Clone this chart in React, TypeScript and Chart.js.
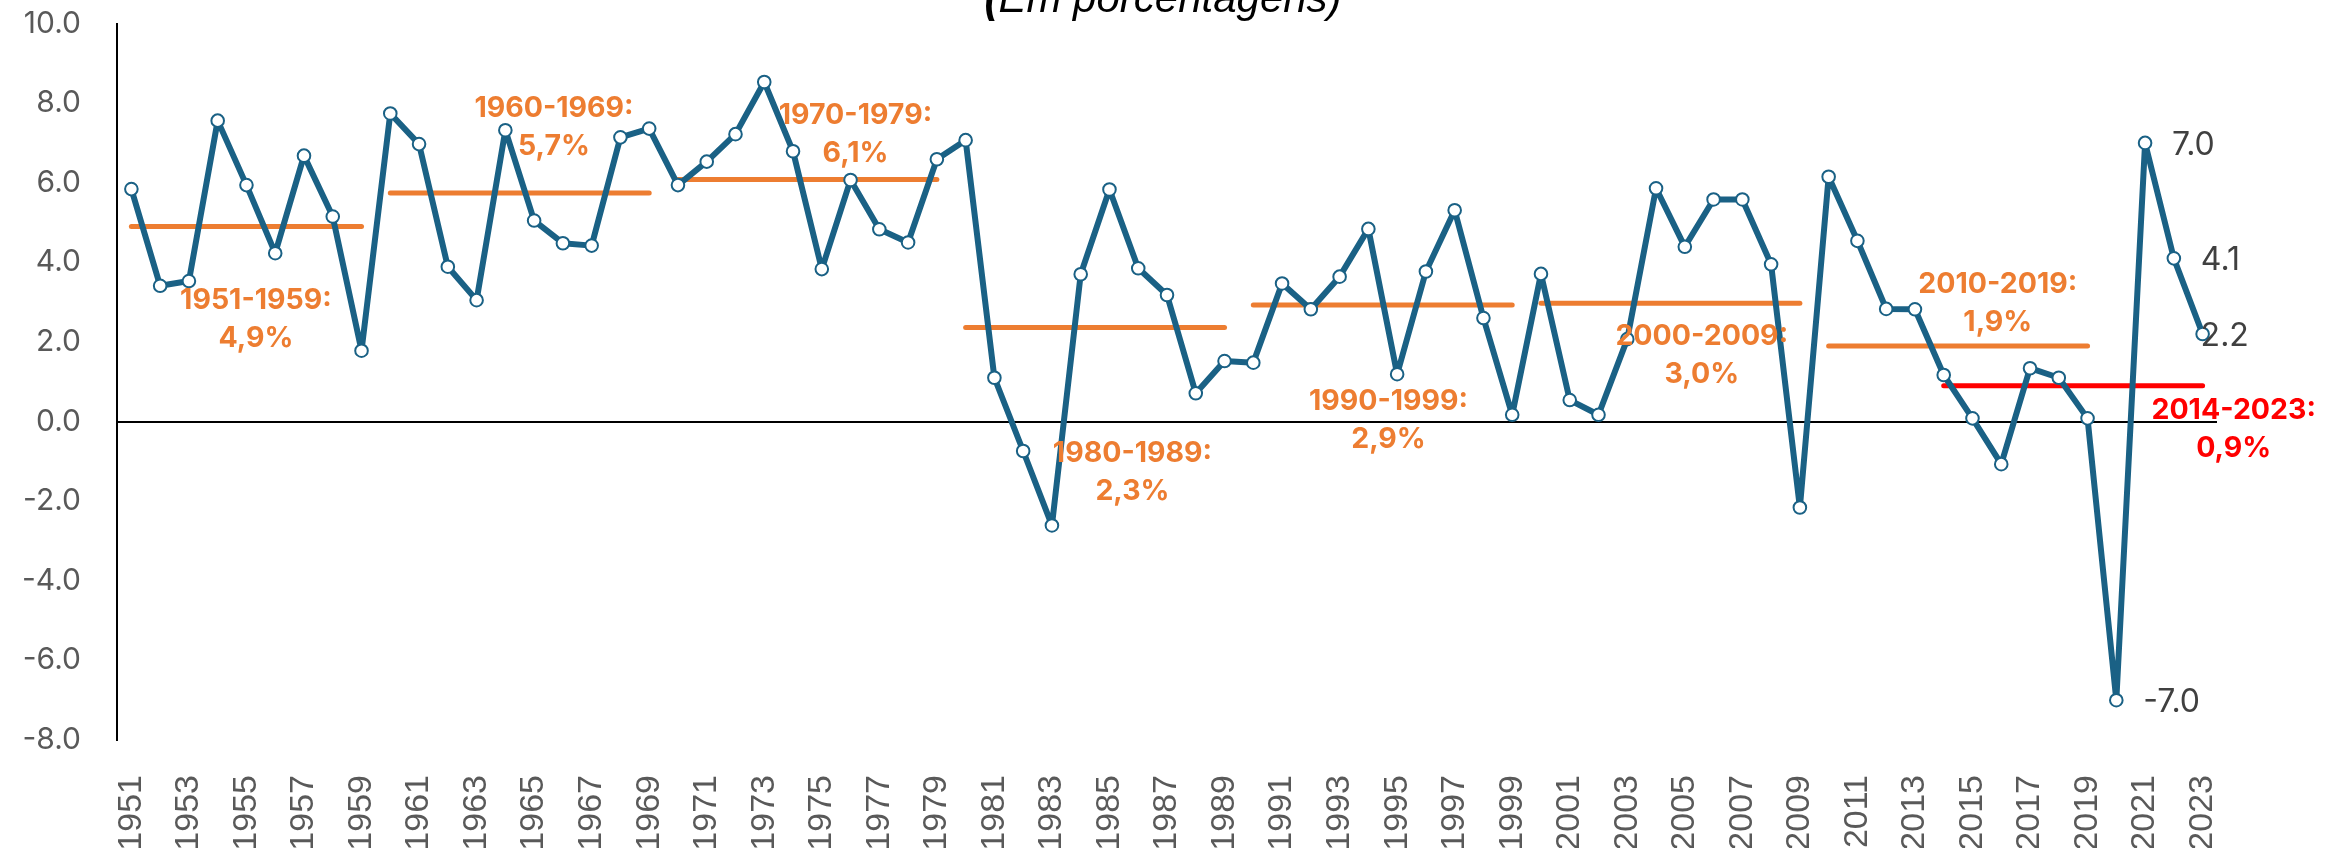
import { useEffect, useRef } from "react";
import { Chart, registerables } from "chart.js";

Chart.register(...registerables);

// ---------- DATA ----------
const years = [
  "1951", "1952", "1953", "1954", "1955", "1956", "1957", "1958", "1959",
  "1960", "1961", "1962", "1963", "1964", "1965", "1966", "1967", "1968", "1969",
  "1970", "1971", "1972", "1973", "1974", "1975", "1976", "1977", "1978", "1979",
  "1980", "1981", "1982", "1983", "1984", "1985", "1986", "1987", "1988", "1989",
  "1990", "1991", "1992", "1993", "1994", "1995", "1996", "1997", "1998", "1999",
  "2000", "2001", "2002", "2003", "2004", "2005", "2006", "2007", "2008", "2009",
  "2010", "2011", "2012", "2013", "2014", "2015", "2016", "2017", "2018", "2019",
  "2020", "2021", "2022", "2023",
];

const growth = [
  5.84, 3.41, 3.53, 7.56, 5.94, 4.23, 6.68, 5.15, 1.78,
  7.74, 6.97, 3.89, 3.05, 7.32, 5.05, 4.48, 4.42, 7.14, 7.36,
  5.94, 6.53, 7.22, 8.53, 6.79, 3.83, 6.07, 4.83, 4.5, 6.59,
  7.07, 1.1, -0.74, -2.61, 3.7, 5.83, 3.85, 3.18, 0.71, 1.52,
  1.48, 3.47, 2.82, 3.64, 4.84, 1.19, 3.77, 5.31, 2.6, 0.17,
  3.71, 0.54, 0.17, 2.07, 5.86, 4.39, 5.58, 5.58, 3.95, -2.16,
  6.15, 4.54, 2.83, 2.82, 1.17, 0.08, -1.07, 1.34, 1.1, 0.08,
  -7.0, 7.0, 4.1, 2.2,
];

const periodNames = ["1951-1959:", "1960-1969:", "1970-1979:", "1980-1989:", "1990-1999:", "2000-2009:", "2010-2019:", "2014-2023:"];
const periodStart = ["1951", "1960", "1970", "1980", "1990", "2000", "2010", "2014"];
const periodEnd = ["1959", "1969", "1979", "1989", "1999", "2009", "2019", "2023"];
const periodAvg = [4.9, 5.74, 6.08, 2.36, 2.93, 2.97, 1.9, 0.9];
const periodAvgText = ["4,9%", "5,7%", "6,1%", "2,3%", "2,9%", "3,0%", "1,9%", "0,9%"];

const yTicks = [-8, -6, -4, -2, 0, 2, 4, 6, 8, 10];
const labeledYears = ["2020", "2021", "2022", "2023"];
const titleText = "(Em porcentagens)";

// ---------- STYLE / LAYOUT ----------
const BLUE = "#1A6185";
const ORANGE = "#ED7D31";
const RED = "#FF0000";
const periodColors = [ORANGE, ORANGE, ORANGE, ORANGE, ORANGE, ORANGE, ORANGE, RED];
// annotation anchor (fractional category index, value of first text line centre)
const annotIdx = [4.33, 14.69, 25.17, 34.8, 43.7, 54.59, 64.88, 73.08];
const annotVal = [3.05, 7.87, 7.7, -0.79, 0.5, 2.13, 3.44, 0.29];
const labelDx = [27, 27, 27, -2];

const annotationsPlugin = {
  id: "annotationsPlugin",
  afterDatasetsDraw(chart: any) {
    const { ctx } = chart;
    const xs = chart.scales.x;
    const ys = chart.scales.y;
    const x0 = xs.getPixelForValue(0);
    const step = xs.getPixelForValue(1) - x0;
    ctx.save();
    ctx.textAlign = "center";
    ctx.textBaseline = "middle";
    ctx.font = "bold 28.5px Inter";
    periodNames.forEach((name, i) => {
      const x = x0 + annotIdx[i] * step;
      const y = ys.getPixelForValue(annotVal[i]);
      ctx.fillStyle = periodColors[i];
      ctx.fillText(name, x, y);
      ctx.fillText(periodAvgText[i], x, y + 38);
    });
    // data labels
    ctx.font = "32px Inter";
    ctx.fillStyle = "#404040";
    ctx.textAlign = "left";
    labeledYears.forEach((yr, k) => {
      const idx = years.indexOf(yr);
      const v = growth[idx];
      const px = xs.getPixelForValue(idx);
      const py = ys.getPixelForValue(v);
      ctx.fillText(v.toFixed(1), px + labelDx[k], py + 2.5);
    });
    // title (clipped at top as in original)
    const cx = chart.width / 2 - 5;
    ctx.fillStyle = "#000";
    ctx.textBaseline = "alphabetic";
    ctx.font = "bold italic 42px 'Liberation Sans', Arial";
    const openW = ctx.measureText("(").width;
    ctx.font = "italic 42px 'Liberation Sans', Arial";
    const restW = ctx.measureText(titleText.slice(1)).width;
    const startX = cx - (openW + restW) / 2;
    ctx.textAlign = "left";
    ctx.font = "bold italic 42px 'Liberation Sans', Arial";
    ctx.fillText("(", startX, 12);
    ctx.font = "italic 42px 'Liberation Sans', Arial";
    ctx.fillText(titleText.slice(1), startX + openW, 12);
    ctx.restore();
  },
};

export default function App() {
  const ref = useRef<HTMLCanvasElement>(null);

  useEffect(() => {
    const avgDatasets = periodNames.map((name, i) => {
      const s = Number(periodStart[i]);
      const e = Number(periodEnd[i]);
      return {
        label: name,
        data: years.map((y) => (Number(y) >= s && Number(y) <= e ? periodAvg[i] : null)),
        borderColor: periodColors[i],
        backgroundColor: periodColors[i],
        borderWidth: 5,
        borderCapStyle: "round" as const,
        pointRadius: 0,
        spanGaps: false,
        order: 1,
      };
    });

    const chart = new Chart(ref.current!, {
      type: "line",
      data: {
        labels: years,
        datasets: [
          {
            label: "PIB",
            data: growth,
            borderColor: BLUE,
            borderWidth: 6,
            borderJoinStyle: "round" as const,
            borderCapStyle: "round" as const,
            pointRadius: 6.3,
            pointBorderWidth: 2,
            pointBackgroundColor: "#fff",
            pointBorderColor: BLUE,
            tension: 0,
            order: 0,
          },
          ...avgDatasets,
        ],
      },
      options: {
        responsive: false,
        animation: false,
        devicePixelRatio: 1,
        layout: { padding: { top: 23.5, right: 119, left: 0, bottom: 0 } },
        plugins: {
          legend: { display: false },
          tooltip: { enabled: false },
          title: { display: false },
        },
        scales: {
          x: {
            type: "category",
            offset: true,
            grid: { display: false },
            border: { display: false },
            ticks: {
              autoSkip: false,
              minRotation: 90,
              maxRotation: 90,
              padding: 27,
              color: "#595959",
              font: { family: "'Liberation Sans', Arial", size: 34 },
              callback: (_v: any, i: number) => (i % 2 === 0 ? years[i] : ""),
            },
            afterFit: (s: any) => {
              s.height = 108;
              s.paddingLeft = 0;
              s.paddingRight = 0;
            },
          },
          y: {
            min: yTicks[0],
            max: yTicks[yTicks.length - 1],
            afterBuildTicks: (s: any) => {
              s.ticks = yTicks.map((v) => ({ value: v }));
            },
            grid: {
              drawTicks: false,
              lineWidth: 2,
              color: (c: any) => (c.tick && c.tick.value === 0 ? "#000" : "rgba(0,0,0,0)"),
            },
            border: { display: true, color: "#000", width: 2 },
            ticks: {
              padding: 36,
              color: "#595959",
              font: { family: "Inter", size: 30 },
              callback: (v: any) => Number(v).toFixed(1),
            },
            afterFit: (s: any) => {
              s.width = 117;
              s.paddingTop = 0;
              s.paddingBottom = 0;
            },
          },
        },
      },
      plugins: [annotationsPlugin],
    });
    return () => chart.destroy();
  }, []);

  return (
    <div style={{ position: "fixed", left: 0, top: 0, width: 2336, height: 848, background: "#fff" }}>
      <canvas ref={ref} width={2336} height={848} style={{ display: "block", width: 2336, height: 848 }} />
    </div>
  );
}
